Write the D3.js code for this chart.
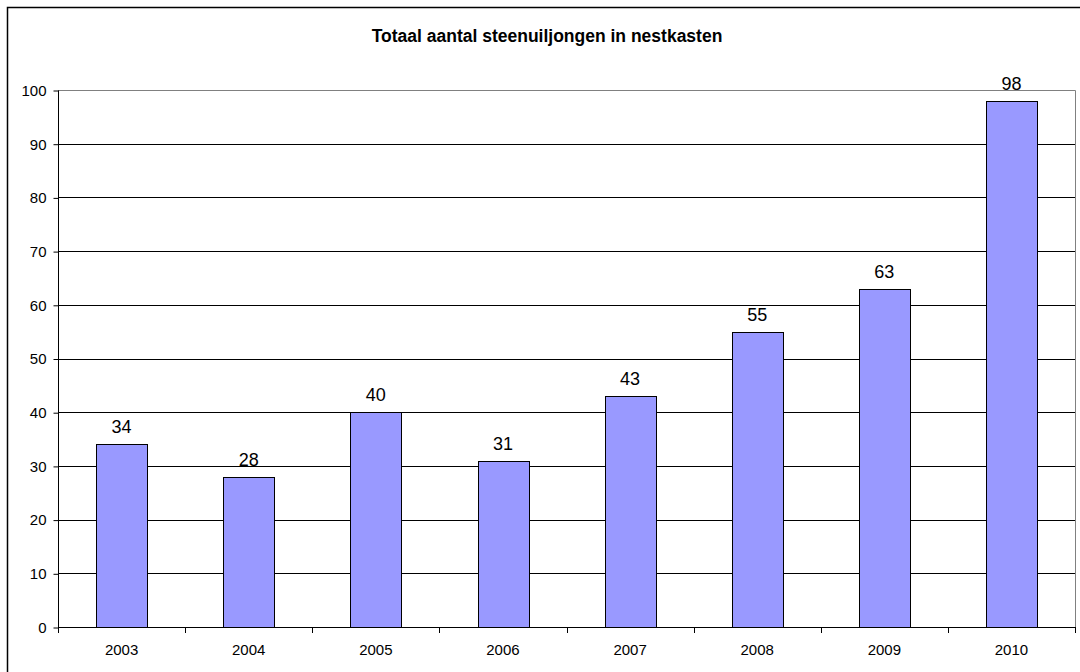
<!DOCTYPE html>
<html><head><meta charset="utf-8">
<script src="https://cdn.jsdelivr.net/npm/d3@7/dist/d3.min.js"></script>
<style>body{margin:0;background:#fff}svg{display:block}text{font-family:"Liberation Sans",Arial,sans-serif;fill:#000}</style>
</head><body><svg id="c" width="1080" height="672"></svg>
<script>
const title = "Totaal aantal steenuiljongen in nestkasten";
const years = ["2003","2004","2005","2006","2007","2008","2009","2010"];
const values = [34,28,40,31,43,55,63,98];
const yTicks = [0,10,20,30,40,50,60,70,80,90,100];

const svg = d3.select("#c");
const L=58,R=1075,T=90,B=627;
svg.append("rect").attr("x",7.5).attr("y",7.5).attr("width",1090).attr("height",700)
  .attr("fill","#fff").attr("stroke","#000").attr("stroke-width",1.5);

const x = d3.scaleBand().domain(years).range([L,R]).paddingInner(0.6).paddingOuter(0.3);
const xb = d3.scaleBand().domain(years).range([L,R]);
const y = d3.scaleLinear().domain([0,100]).range([B,T]);

// grid
svg.append("g").selectAll("line").data(yTicks.filter(d=>d>0&&d<100)).join("line")
  .attr("x1",L).attr("x2",R).attr("y1",d=>Math.round(y(d))+0.5).attr("y2",d=>Math.round(y(d))+0.5)
  .attr("stroke","#000").attr("stroke-width",1);
// plot border top/right gray
svg.append("path").attr("d",`M${L},${T+0.5}H${R+0.5}V${B}`).attr("fill","none").attr("stroke","#808080").attr("stroke-width",1);

// bars
svg.append("g").selectAll("rect").data(values).join("rect")
  .attr("x",(d,i)=>Math.round(x(years[i]))+0.5).attr("width",Math.round(x.bandwidth()))
  .attr("y",d=>Math.round(y(d))+0.5).attr("height",d=>Math.round(B-y(d)))
  .attr("fill","#9999FF").attr("stroke","#000").attr("stroke-width",1);

// value labels
svg.append("g").selectAll("text").data(values).join("text")
  .attr("x",(d,i)=>x(years[i])+x.bandwidth()/2).attr("y",d=>y(d)-11)
  .attr("text-anchor","middle").attr("font-size",18).text(d=>d);

// y axis
const ya = d3.axisLeft(y).tickValues(yTicks).tickSize(5).tickPadding(7);
const gy = svg.append("g").attr("transform",`translate(${L+0.5},0.5)`).call(ya);
gy.select(".domain").attr("d",`M-0,${T}V${B}`).attr("stroke","#000");
gy.selectAll("line").attr("stroke","#000");
gy.selectAll("text").attr("font-size",15).attr("font-family","Liberation Sans, Arial, sans-serif").attr("fill","#000");

// x axis
svg.append("line").attr("x1",L).attr("x2",R+1).attr("y1",B+0.5).attr("y2",B+0.5).attr("stroke","#000");
svg.append("g").selectAll("line").data(years.concat(["end"])).join("line")
  .attr("x1",(d,i)=>Math.round(L+i*xb.bandwidth())+0.5).attr("x2",(d,i)=>Math.round(L+i*xb.bandwidth())+0.5)
  .attr("y1",B).attr("y2",B+6).attr("stroke","#000");
svg.append("g").selectAll("text").data(years).join("text")
  .attr("x",d=>xb(d)+xb.bandwidth()/2).attr("y",655).attr("text-anchor","middle")
  .attr("font-size",15).text(d=>d);

svg.append("text").attr("x",547).attr("y",42).attr("text-anchor","middle")
  .attr("font-size",17.5).attr("font-weight","bold").text(title);
</script></body></html>
